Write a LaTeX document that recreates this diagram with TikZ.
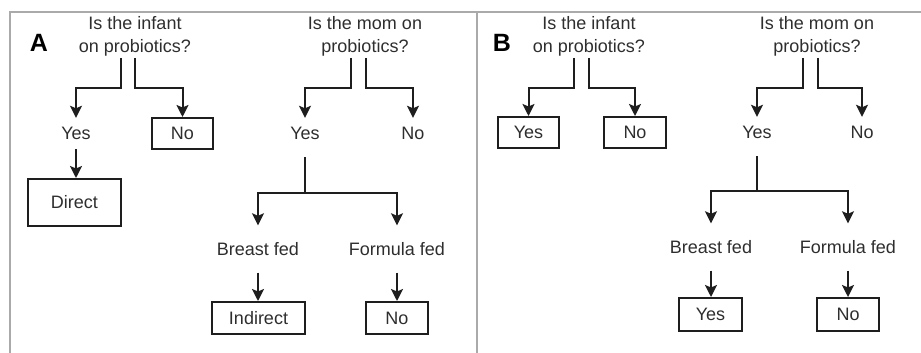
\documentclass[tikz,border=0pt]{standalone}
\usepackage{fontspec}
\setmainfont{Liberation Sans}
\usetikzlibrary{arrows.meta}
\definecolor{txt}{HTML}{2E2E2E}
\definecolor{ln}{HTML}{1E1E1E}
\definecolor{frm}{HTML}{AAAAAA}
\begin{document}
\begin{tikzpicture}[x=1pt,y=-1pt,
  every node/.style={font=\fontsize{18}{23}\selectfont, text=txt, inner sep=0pt},
  lbl/.style={minimum height=31pt},
  lbltall/.style={minimum height=47pt},
  box/.style={draw=ln, line width=2pt, minimum height=#1},
  box/.default=31pt,
  q/.style={align=center},
  conn/.style={draw=ln, line width=2pt},
  arr/.style={conn, -{Stealth[length=12pt,width=12pt,inset=2.5pt]}},
  panel/.style={font=\fontsize{25}{28}\selectfont\bfseries, text=black}
]
\useasboundingbox (0,0) rectangle (921,353);
% frame
\draw[frm, line width=2pt] (10,353) -- (10,12) -- (921,12);
\draw[frm, line width=2pt] (477,12) -- (477,353);

% ---------- Panel A ----------
\node[panel] (A) at (39,43) {A};
\node[q] (qA1) at (135,36) {Is the infant\\on probiotics?};
\node[lbl] (yA1) at (76,133.5) {Yes};
\node[box, minimum width=61pt] (nA1) at (182.5,133.5) {No};
\node[box=47pt, minimum width=93pt] (dA) at (74.5,202.5) {Direct};
\coordinate (sA1l) at (121,58);
\coordinate (sA1r) at (135,58);
\draw[arr] (sA1l) |- (98,88) -| (yA1.north);
\draw[arr] (sA1r) |- (160,88) -| (nA1.north);
\draw[arr] (yA1.south) -- (yA1.south |- dA.north);

\node[q] (qA2) at (365,36) {Is the mom on\\probiotics?};
\node[lbl] (yA2) at (305,133.5) {Yes};
\node[lbl] (nA2) at (413,133.5) {No};
\coordinate (sA2l) at (351,58);
\coordinate (sA2r) at (366,58);
\draw[arr] (sA2l) |- (330,88) -| (yA2.north);
\draw[arr] (sA2r) |- (390,88) -| (nA2.north);
\coordinate (jA) at (305,193);
\node[lbltall] (bA) at (258,249) {Breast fed};
\node[lbltall] (fA) at (397,249) {Formula fed};
\draw[conn, shorten <=8pt] (yA2.south) -- (jA);
\draw[arr] (jA) -| (bA.north);
\draw[arr] (jA) -| (fA.north);
\node[box=32pt, minimum width=93pt] (iA) at (258.5,318) {Indirect};
\node[box=32pt, minimum width=62pt] (n2A) at (397,318) {No};
\draw[arr] (bA.south) -- (bA.south |- iA.north);
\draw[arr] (fA.south) -- (fA.south |- n2A.north);

% ---------- Panel B ----------
\node[panel] (B) at (502,43) {B};
\node[q] (qB1) at (589,36) {Is the infant\\on probiotics?};
\node[box, minimum width=61pt] (yB1) at (528.5,132.5) {Yes};
\node[box, minimum width=62pt] (nB1) at (635,132.5) {No};
\coordinate (sB1l) at (574,58);
\coordinate (sB1r) at (589,58);
\draw[arr] (sB1l) |- (550,88) -| (yB1.north);
\draw[arr] (sB1r) |- (610,88) -| (nB1.north);

\node[q] (qB2) at (817,36) {Is the mom on\\probiotics?};
\node[lbl] (yB2) at (757,132.5) {Yes};
\node[lbl] (nB2) at (862,132.5) {No};
\coordinate (sB2l) at (803,58);
\coordinate (sB2r) at (818,58);
\draw[arr] (sB2l) |- (780,88) -| (yB2.north);
\draw[arr] (sB2r) |- (840,88) -| (nB2.north);
\coordinate (jB) at (757,191);
\node[lbltall] (bB) at (711,247) {Breast fed};
\node[lbltall] (fB) at (848,247) {Formula fed};
\draw[conn, shorten <=8pt] (yB2.south) -- (jB);
\draw[arr] (jB) -| (bB.north);
\draw[arr] (jB) -| (fB.north);
\node[box=33pt, minimum width=63pt] (y2B) at (710.5,314.5) {Yes};
\node[box=33pt, minimum width=62pt] (n2B) at (848,314.5) {No};
\draw[arr] (bB.south) -- (bB.south |- y2B.north);
\draw[arr] (fB.south) -- (fB.south |- n2B.north);
\end{tikzpicture}
\end{document}
